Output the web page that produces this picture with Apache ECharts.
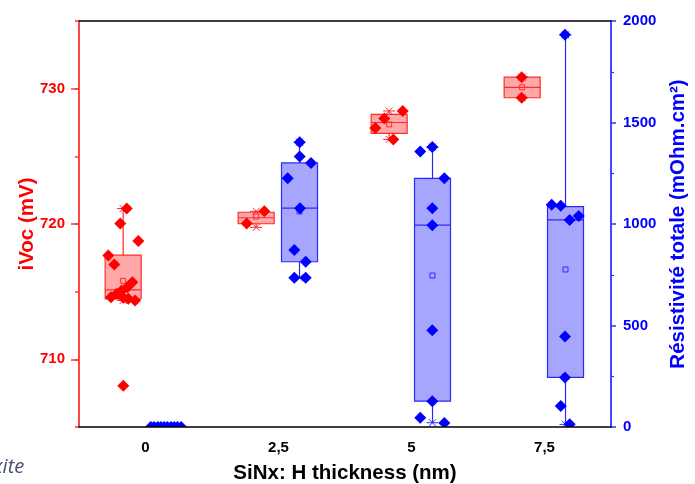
<!DOCTYPE html>
<html>
<head>
<meta charset="utf-8">
<title>iVoc / Résistivité vs SiNx:H thickness</title>
<script src="https://cdn.jsdelivr.net/npm/echarts@6.0.0/dist/echarts.min.js"></script>
<style>
  html, body { margin: 0; padding: 0; background: #fff; }
  #chart { width: 695px; height: 484px; }
</style>
</head>
<body>
<div id="chart"></div>
<script>
// épaisseur SiNx:H (nm)
const thickness = [0, 2.5, 5, 7.5];
const thicknessLabels = ['0', '2,5', '5', '7,5'];

// iVoc (mV) : [min, Q1, médiane, Q3, max, moyenne]
const ivocBox = [
  [714.35, 714.47, 715.13, 717.70, 721.14, 715.80],
  [719.75, 720.02, 720.46, 720.87, 720.94, 720.55],
  [726.25, 726.70, 727.50, 728.10, 728.35, 727.36],
  [729.33, 729.33, 730.10, 730.85, 730.85, 730.10]
];
// points mesurés iVoc [position x, valeur]
const ivocPoints = [
  [-0.353, 721.14], [-0.474, 720.03], [-0.135, 718.74], [-0.699, 717.68],
  [-0.586, 717.01], [-0.248, 715.70], [-0.342, 715.33], [-0.447, 715.09],
  [-0.541, 714.84], [-0.648, 714.59], [-0.417, 714.55], [-0.323, 714.47],
  [-0.197, 714.35], [-0.417, 708.05],
  [1.902, 720.03], [2.233, 720.94],
  [4.835, 728.35], [4.489, 727.80], [4.320, 727.10], [4.658, 726.25],
  [7.071, 730.85], [7.071, 729.33]
];

// résistivité totale (mOhm.cm2) : [min, Q1, médiane, Q3, max, moyenne]
const resBox = [
  [0, 0, 0, 0, 0, 0],
  [735, 814, 1078, 1301, 1403, 1062],
  [21, 127, 994, 1225, 1379, 746],
  [13, 244, 1020, 1086, 1932, 776]
];
const resPoints = [
  [0.10, 0], [0.16, 0], [0.23, 0], [0.29, 0], [0.35, 0],
  [0.41, 0], [0.48, 0], [0.54, 0], [0.60, 0], [0.67, 0],
  [2.898, 1403], [2.898, 1333], [3.111, 1301], [2.673, 1225], [2.904, 1078],
  [2.797, 872], [3.011, 814], [2.797, 735], [3.011, 735],
  [5.165, 1357], [5.391, 1379], [5.617, 1225], [5.391, 1078], [5.391, 994],
  [5.391, 476], [5.391, 127], [5.165, 46], [5.617, 20],
  [7.635, 1095], [7.805, 1090], [7.974, 1020], [8.143, 1040], [7.885, 1932],
  [7.885, 446], [7.885, 244], [7.805, 104], [7.974, 13]
];

const RED = '#ff0000';
const BLUE = '#0000ff';
const FONT = '"Liberation Sans", Arial, sans-serif';

const redOffset = -0.42;
const blueOffset = 0.395;

function crossAt(p, stroke) {
  const s = 3.5;
  return [
    { type: 'line', shape: { x1: p[0] - s, y1: p[1] - s, x2: p[0] + s, y2: p[1] + s }, style: { stroke: stroke, lineWidth: 1 } },
    { type: 'line', shape: { x1: p[0] - s, y1: p[1] + s, x2: p[0] + s, y2: p[1] - s }, style: { stroke: stroke, lineWidth: 1 } },
    { type: 'line', shape: { x1: p[0] - 6, y1: p[1], x2: p[0] + 6, y2: p[1] }, style: { stroke: stroke, lineWidth: 1 } }
  ];
}

function boxRenderer(fill, stroke) {
  return function (params, api) {
    const x = api.value(0);
    const pMin = api.coord([x, api.value(1)]);
    const pQ1 = api.coord([x, api.value(2)]);
    const pMed = api.coord([x, api.value(3)]);
    const pQ3 = api.coord([x, api.value(4)]);
    const pMax = api.coord([x, api.value(5)]);
    const pMean = api.coord([x, api.value(6)]);
    const hw = 18;
    const cx = pMed[0];
    const ls = { stroke: stroke, lineWidth: 1.2 };
    return {
      type: 'group',
      children: [
        { type: 'line', shape: { x1: cx, y1: pQ3[1], x2: cx, y2: pMax[1] }, style: ls },
        { type: 'line', shape: { x1: cx, y1: pMin[1], x2: cx, y2: pQ1[1] }, style: ls },
        { type: 'rect', shape: { x: cx - hw, y: pQ3[1], width: hw * 2, height: pQ1[1] - pQ3[1] },
          style: { fill: fill, stroke: stroke, lineWidth: 1.2 } },
        { type: 'line', shape: { x1: cx - hw, y1: pMed[1], x2: cx + hw, y2: pMed[1] }, style: ls },
        { type: 'rect', shape: { x: pMean[0] - 2.5, y: pMean[1] - 2.5, width: 5, height: 5 },
          style: { fill: 'none', stroke: stroke, lineWidth: 1 } }
      ].concat(crossAt(pMax, stroke), crossAt(pMin, stroke))
    };
  };
}

// losanges (découpés par la zone de tracé, comme les points à 0)
function diamondRenderer(color) {
  return function (params, api) {
    const p = api.coord([api.value(0), api.value(1)]);
    const h = 6;
    return {
      type: 'polygon',
      shape: { points: [[p[0], p[1] - h], [p[0] + h, p[1]], [p[0], p[1] + h], [p[0] - h, p[1]]] },
      style: { fill: color }
    };
  };
}

const chart = echarts.init(document.getElementById('chart'));

chart.setOption({
  animation: false,
  textStyle: { fontFamily: FONT },
  grid: { left: 79, right: 84, top: 21, bottom: 57, outerBoundsMode: 'none', containLabel: false },
  xAxis: [
    {
      type: 'category',
      data: thicknessLabels,
      boundaryGap: true,
      position: 'bottom',
      name: 'SiNx: H thickness (nm)',
      nameLocation: 'middle',
      nameGap: 36,
      nameMoveOverlap: false,
      nameTextStyle: { color: '#000', fontWeight: 'bold', fontSize: 20.5, fontFamily: FONT },
      axisLine: { onZero: false, lineStyle: { color: '#000', width: 1.5 } },
      axisTick: { alignWithLabel: true, length: 5, lineStyle: { color: '#000' } },
      axisLabel: { color: '#000', fontWeight: 'bold', fontSize: 15, margin: 13, fontFamily: FONT },
      splitLine: { show: false },
      z: 5
    },
    {
      type: 'value', min: -1.25, max: 8.75, position: 'top',
      axisLine: { onZero: false, lineStyle: { color: '#000', width: 1.5 } },
      axisTick: { show: false }, axisLabel: { show: false }, splitLine: { show: false }
    },
    {
      type: 'value', min: -1.25, max: 8.75, show: false,
      axisLine: { onZero: false }, splitLine: { show: false }
    }
  ],
  yAxis: [
    {
      type: 'value', min: 705, max: 735, interval: 5, position: 'left',
      name: 'iVoc (mV)',
      nameLocation: 'middle',
      nameGap: 41,
      nameMoveOverlap: false,
      nameTextStyle: { color: RED, fontWeight: 'bold', fontSize: 20.5, fontFamily: FONT },
      axisLine: { show: true, onZero: false, lineStyle: { color: '#ff3333', width: 1.8 } },
      axisTick: { show: true, customValues: [710, 720, 730], length: 8, lineStyle: { color: '#ff3333', width: 1.5 } },
      axisLabel: { customValues: [710, 720, 730], color: RED, fontWeight: 'bold', fontSize: 15, margin: 14, fontFamily: FONT },
      splitLine: { show: false }
    },
    {
      type: 'value', min: 0, max: 2000, interval: 500, position: 'right',
      name: 'Résistivité totale (mOhm.cm²)',
      nameLocation: 'middle',
      nameGap: 57,
      nameMoveOverlap: false,
      nameTextStyle: { color: BLUE, fontWeight: 'bold', fontSize: 20.5, fontFamily: FONT },
      axisLine: { show: true, onZero: false, lineStyle: { color: '#3333ff', width: 1.8 } },
      axisTick: { show: true, length: 5, lineStyle: { color: '#3333ff', width: 1.5 } },
      minorTick: { show: true, splitNumber: 2, length: 3, lineStyle: { color: '#3333ff', width: 1.2 } },
      axisLabel: { color: BLUE, fontWeight: 'bold', fontSize: 15, margin: 12, fontFamily: FONT,
        formatter: v => String(v) },
      splitLine: { show: false }
    },
    {
      // petites graduations intermédiaires de l'axe iVoc
      type: 'value', min: 705, max: 735, interval: 5, position: 'left',
      axisLine: { show: false, onZero: false },
      axisTick: { show: true, length: 4, lineStyle: { color: '#ff3333', width: 1.5 } },
      axisLabel: { show: false },
      splitLine: { show: false }
    }
  ],
  graphic: [
    {
      type: 'text', x: -7, y: 467,
      style: { text: 'xite', font: 'italic 20px "Open Sans", sans-serif', fill: '#44546a', verticalAlign: 'middle' }
    }
  ],
  series: [
    {
      name: 'iVoc box',
      type: 'custom',
      xAxisIndex: 1, yAxisIndex: 0,
      renderItem: boxRenderer('rgba(255,0,0,0.34)', '#ff2a2a'),
      encode: { x: 0, y: [1, 2, 3, 4, 5, 6] },
      clip: true,
      data: ivocBox.map((b, i) => [thickness[i] + redOffset].concat(b)),
      z: 2
    },
    {
      name: 'Résistivité box',
      type: 'custom',
      xAxisIndex: 2, yAxisIndex: 1,
      renderItem: boxRenderer('rgba(0,0,255,0.35)', '#2a2aff'),
      encode: { x: 0, y: [1, 2, 3, 4, 5, 6] },
      clip: true,
      data: resBox.map((b, i) => [thickness[i] + blueOffset].concat(b)),
      z: 2
    },
    {
      name: 'iVoc',
      type: 'custom',
      xAxisIndex: 1, yAxisIndex: 0,
      renderItem: diamondRenderer(RED),
      encode: { x: 0, y: 1 },
      clip: true,
      data: ivocPoints,
      z: 3
    },
    {
      name: 'Résistivité',
      type: 'custom',
      xAxisIndex: 2, yAxisIndex: 1,
      renderItem: diamondRenderer(BLUE),
      encode: { x: 0, y: 1 },
      clip: true,
      data: resPoints,
      z: 3
    }
  ]
});
</script>
</body>
</html>
